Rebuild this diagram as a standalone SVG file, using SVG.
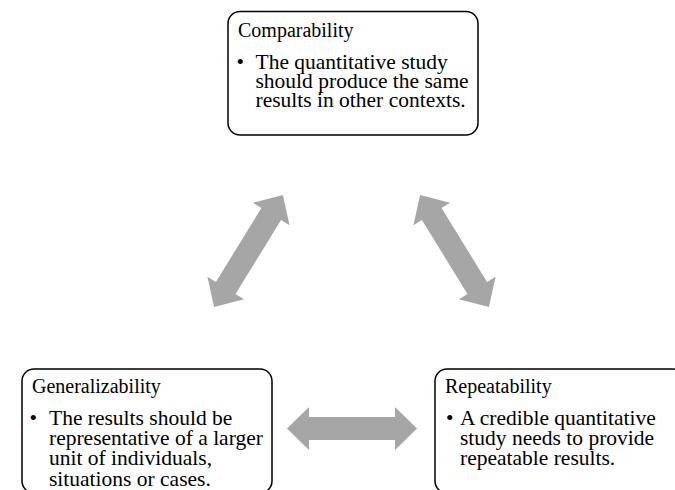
<svg xmlns="http://www.w3.org/2000/svg" width="675" height="490" viewBox="0 0 675 490">
<style>
.box{fill:#fff;stroke:#000;stroke-width:1.5}
.t{font-family:"Liberation Serif","Times New Roman",serif;font-size:20px;fill:#000}
.b{font-family:"Liberation Serif","Times New Roman",serif;font-size:21.5px;fill:#000}
.arr{fill:#a6a6a6}
</style>
<defs>
<polygon id="dbl" points="-65,0 -43,-21.5 -43,-11.5 43,-11.5 43,-21.5 65,0 43,21.5 43,11.5 -43,11.5 -43,21.5"/>
</defs>
<rect width="675" height="490" fill="#fff"/>
<g id="connectors" class="arr">
<use href="#dbl" transform="translate(248.5,251) rotate(-58.4) scale(1.01,1)"/>
<use href="#dbl" transform="translate(454.5,251) rotate(58.4) scale(1.01,1)"/>
<use href="#dbl" transform="translate(352,428.5)"/>
</g>
<g id="comparability">
<rect class="box" x="228" y="11.5" width="250" height="123.5" rx="12"/>
<text class="t" x="238" y="36.5">Comparability</text>
<text class="b" x="236.5" y="69">•</text>
<text class="b" x="255.5" y="69">The quantitative study</text>
<text class="b" x="255.5" y="88">should produce the same</text>
<text class="b" x="255.5" y="107">results in other contexts.</text>
</g>
<g id="generalizability">
<rect class="box" x="22" y="369" width="250" height="124" rx="12"/>
<text class="t" x="32" y="393">Generalizability</text>
<text class="b" x="29.5" y="425">•</text>
<text class="b" x="49" y="425">The results should be</text>
<text class="b" x="49" y="445">representative of a larger</text>
<text class="b" x="49" y="465">unit of individuals,</text>
<text class="b" x="49" y="485.5">situations or cases.</text>
</g>
<g id="repeatability">
<rect class="box" x="435" y="369" width="250" height="124" rx="12"/>
<text class="t" x="445" y="393">Repeatability</text>
<text class="b" x="446" y="425">•</text>
<text class="b" x="460" y="425">A credible quantitative</text>
<text class="b" x="460" y="445">study needs to provide</text>
<text class="b" x="460" y="465">repeatable results.</text>
</g>
</svg>
